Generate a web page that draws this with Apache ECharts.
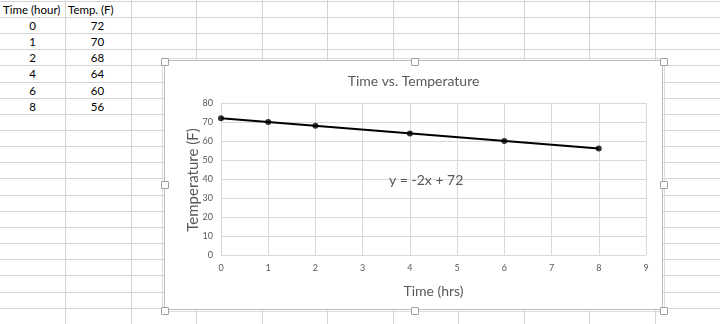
<!DOCTYPE html>
<html>
<head>
<meta charset="utf-8">
<script src="https://cdn.jsdelivr.net/npm/echarts@6/dist/echarts.min.js"></script>
<style>
  html, body { margin: 0; padding: 0; width: 720px; height: 324px; overflow: hidden; background: #fff; }
  #sheet { position: absolute; left: 0; top: 0; width: 720px; height: 324px; }
  .hl { position: absolute; left: 0; width: 720px; height: 1px; background: #d4d4d4; }
  .vl { position: absolute; top: 0; width: 1px; height: 324px; background: #d4d4d4; }
  .cell { position: absolute; font-family: Lato, "Liberation Sans", sans-serif; font-size: 11.5px; color: #000; line-height: 16px; white-space: nowrap; }
  #frame { position: absolute; left: 164px; top: 60px; width: 497px; height: 248px; border: 1px solid #bdbdbd; outline: 1px solid #dcdcdc; outline-offset: 1px; background: #fff; }
  #chart { position: absolute; left: 0; top: 0; width: 497px; height: 248px; }
  .hd { position: absolute; width: 6px; height: 6px; border: 1px solid #a0a0a0; background: #fff; border-radius: 1px; }
</style>
</head>
<body>
<div id="sheet"></div>
<div id="frame"><div id="chart"></div></div>
<script>
// ---- data ----
const headers = ["Time (hour)", "Temp. (F)"];
const timeHours = [0, 1, 2, 4, 6, 8];
const tempF = [72, 70, 68, 64, 60, 56];
const trendX = [0, 8];
const trendY = [72, 56];
const chartTitle = "Time vs. Temperature";
const xAxisTitle = "Time (hrs)";
const yAxisTitle = "Temperature (F)";
const equationText = "y = -2x + 72";

// ---- spreadsheet background ----
const sheet = document.getElementById('sheet');
const colW = 65.45, rowH = 16.15, row0 = 0.85;
for (let k = 1; k * colW < 720; k++) {
  const d = document.createElement('div'); d.className = 'vl';
  d.style.left = Math.round(k * colW) + 'px'; sheet.appendChild(d);
}
for (let k = 0; row0 + k * rowH < 324; k++) {
  const d = document.createElement('div'); d.className = 'hl';
  d.style.top = Math.round(row0 + k * rowH) + 'px'; sheet.appendChild(d);
}
function addCell(text, col, row, align) {
  const d = document.createElement('div'); d.className = 'cell';
  const x0 = Math.round(col * colW), top = Math.round(row0 + row * rowH) + 1;
  d.textContent = text;
  d.style.top = top + 'px';
  if (align === 'left') { d.style.left = (x0 + 3) + 'px'; }
  else { d.style.left = x0 + 'px'; d.style.width = Math.round(colW) + 'px'; d.style.textAlign = 'center'; }
  sheet.appendChild(d);
}
addCell(headers[0], 0, 0, 'left');
addCell(headers[1], 1, 0, 'left');
timeHours.forEach((t, i) => { addCell(String(t), 0, i + 1, 'center'); addCell(String(tempF[i]), 1, i + 1, 'center'); });

// ---- handles ----
const handles = [[161, 58], [411, 58], [660, 58], [161, 181], [660, 181], [161, 307], [411, 307], [660, 307]];
handles.forEach(([x, y]) => {
  const h = document.createElement('div'); h.className = 'hd';
  h.style.left = x + 'px'; h.style.top = y + 'px'; document.body.appendChild(h);
});

// ---- chart ----
const chart = echarts.init(document.getElementById('chart'), null, { renderer: 'canvas' });
const font = 'Lato, "Liberation Sans", sans-serif';
chart.setOption({
  animation: false,
  backgroundColor: '#fff',
  title: {
    text: chartTitle, left: 'center', top: 8,
    textStyle: { fontFamily: font, fontSize: 14, fontWeight: 'normal', color: '#595959' }
  },
  grid: { left: 56, right: 16, top: 42, bottom: 54 },
  xAxis: {
    type: 'value', min: 0, max: 9, interval: 1,
    name: xAxisTitle, nameLocation: 'middle', nameGap: 29,
    nameTextStyle: { fontFamily: font, fontSize: 14, color: '#595959' },
    axisLine: { show: true, lineStyle: { color: '#d9d9d9' } },
    axisTick: { show: false },
    axisLabel: { fontFamily: font, fontSize: 9, color: '#595959', margin: 9 },
    splitLine: { show: true, lineStyle: { color: '#d9d9d9', width: 1 } }
  },
  yAxis: {
    type: 'value', min: 0, max: 80, interval: 10,
    axisLine: { show: true, lineStyle: { color: '#d9d9d9' } },
    axisTick: { show: false },
    axisLabel: { fontFamily: font, fontSize: 9, color: '#595959', margin: 8 },
    splitLine: { show: true, lineStyle: { color: '#d9d9d9', width: 1 } }
  },
  graphic: [
    {
      type: 'text', left: 224, top: 112, z: 100,
      style: { text: equationText, fontFamily: font, fontSize: 14, fill: '#595959' }
    },
    {
      type: 'text', x: 28, y: 119, rotation: Math.PI / 2, z: 100,
      style: { text: yAxisTitle, fontFamily: font, fontSize: 15, fill: '#595959', align: 'center', verticalAlign: 'middle' }
    }
  ],
  series: [
    {
      type: 'line', data: trendX.map((x, i) => [x, trendY[i]]),
      symbol: 'none', lineStyle: { color: '#000', width: 2 }, z: 2, silent: true
    },
    {
      type: 'scatter', data: timeHours.map((t, i) => [t, tempF[i]]),
      symbol: 'circle', symbolSize: 6, itemStyle: { color: '#000' }, z: 3
    }
  ]
});
</script>
</body>
</html>
